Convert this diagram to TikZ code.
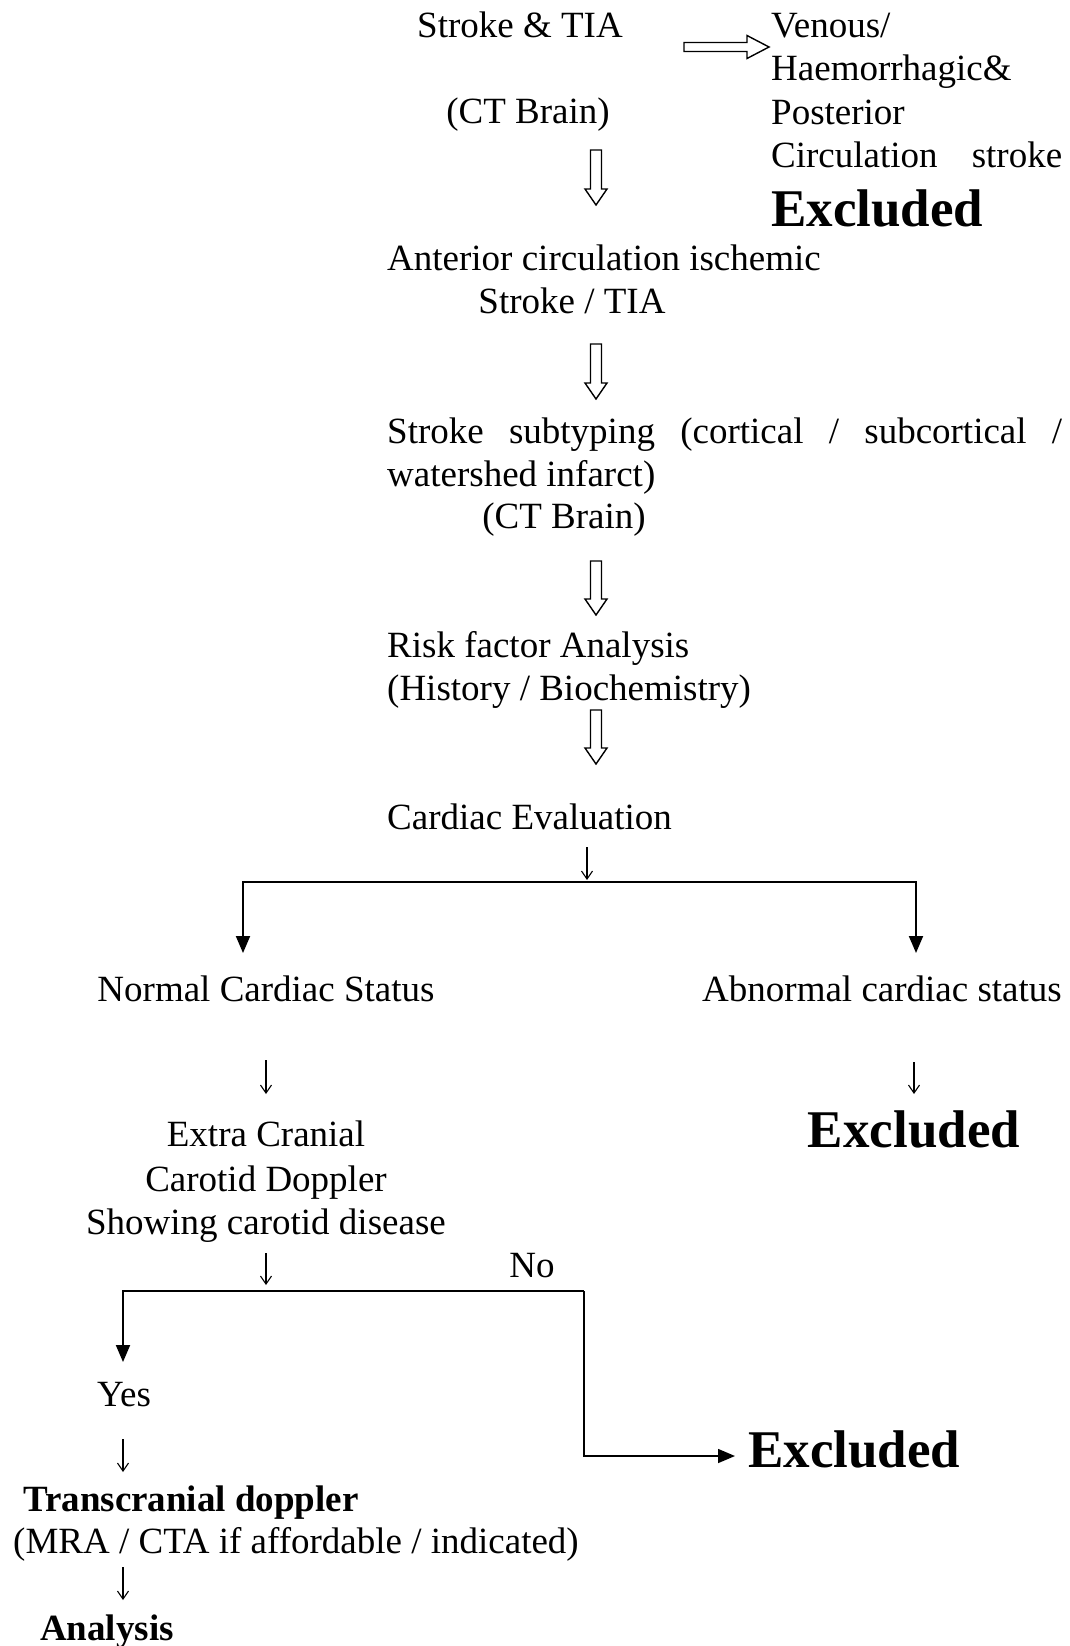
\documentclass[tikz,border=0pt]{standalone}
\usepackage{fontspec}
\setmainfont{Liberation Serif}
\usetikzlibrary{arrows.meta}
\newcommand\hdown[3]{\draw[hollow] (#1-5.5,-#2) -- (#1+5.5,-#2) -- (#1+5.5,-#3+16) -- (#1+11,-#3+16) -- (#1,-#3) -- (#1-11,-#3+16) -- (#1-5.5,-#3+16) -- cycle;}
\begin{document}
\begin{tikzpicture}[x=1pt,y=1pt,
  txt/.style={inner sep=0pt, font=\fontsize{37}{43}\selectfont},
  bld/.style={inner sep=0pt, font=\fontsize{37}{43}\selectfont\bfseries},
  big/.style={inner sep=0pt, font=\fontsize{53}{60}\selectfont\bfseries},
  hollow/.style={line width=1.4pt, fill=white, line join=miter},
  conn/.style={line width=1.9pt},
  tip/.style={-{Triangle[length=17pt,width=14pt]}},
  sarrow/.style={line width=1.1pt, -{Straight Barb[length=8pt,width=11pt]}}]
\useasboundingbox (0,0) rectangle (1069,-1646);

% top block
\node[txt, anchor=base] (s1) at (520,-38) {Stroke \& TIA};
\node[txt, anchor=base] (s2) at (528,-123) {(CT Brain)};
\node[txt, anchor=base west] (ven1) at (771,-38) {Venous/};
\node[txt, anchor=base west] (ven2) at (771,-81) {Haemorrhagic\&};
\node[txt, anchor=base west] (ven3) at (771,-124) {Posterior};
\node[txt, anchor=base west] (ven4) at (771,-167) {\makebox[291pt][s]{Circulation stroke}};
\node[big, anchor=base west] (ex1) at (771,-226) {Excluded};

\node[txt, anchor=base west] (ant1) at (387,-270) {Anterior circulation ischemic};
\node[txt, anchor=base] (ant2) at (572,-313) {Stroke / TIA};

\node[txt, anchor=base west] (sub1) at (387,-443) {\makebox[675pt][s]{Stroke subtyping (cortical / subcortical /}};
\node[txt, anchor=base west] (sub2) at (387,-486) {watershed infarct)};
\node[txt, anchor=base] (sub3) at (564,-528) {(CT Brain)};

\node[txt, anchor=base west] (risk1) at (387,-657) {Risk factor Analysis};
\node[txt, anchor=base west] (risk2) at (387,-700) {(History / Biochemistry)};

\node[txt, anchor=base west] (card) at (387,-829) {Cardiac Evaluation};

\node[txt, anchor=base] (norm) at (266,-1001) {Normal Cardiac Status};
\node[txt, anchor=base east] (abn) at (1062,-1001) {Abnormal cardiac status};

\node[txt, anchor=base] (ecc1) at (266,-1146) {Extra Cranial};
\node[txt, anchor=base] (ecc2) at (266,-1191) {Carotid Doppler};
\node[txt, anchor=base] (ecc3) at (266,-1234) {Showing carotid disease};
\node[big, anchor=base] (ex2) at (914,-1147) {Excluded};

\node[txt, anchor=base] (no) at (532,-1277) {No};
\node[txt, anchor=base] (yes) at (124,-1406) {Yes};
\node[big, anchor=base west] (ex3) at (748,-1467) {Excluded};

\node[bld, anchor=base west] (tcd) at (23,-1511) {Transcranial doppler};
\node[txt, anchor=base west] (mra) at (13,-1553) {(MRA / CTA if affordable / indicated)};
\node[bld, anchor=base west] (ana) at (40,-1640) {Analysis};

% hollow arrows
\draw[hollow] (684,-42.5) -- (747,-42.5) -- (747,-35.5) -- (769,-47) -- (747,-58.5) -- (747,-51.5) -- (684,-51.5) -- cycle;
\hdown{596}{150}{205}
\hdown{596}{344}{399}
\hdown{596}{561}{615}
\hdown{596}{710}{764}

% coordinates
\coordinate (a1s) at (587,-847);
\coordinate (a1e) at (587,-880);
\coordinate (jC) at (587,-882);
\coordinate (tL) at (243,-953);
\coordinate (tR) at (916,-953);
\coordinate (a2s) at (266,-1060);
\coordinate (a2e) at (266,-1094);
\coordinate (a3s) at (914,-1062);
\coordinate (a3e) at (914,-1094);
\coordinate (a4s) at (266,-1253);
\coordinate (a4e) at (266,-1285);
\coordinate (bL) at (123,-1291);
\coordinate (bM) at (434,-1291);
\coordinate (bR) at (584,-1291);
\coordinate (tY) at (123,-1362);
\coordinate (bD) at (584,-1456);
\coordinate (tX) at (735,-1456);
\coordinate (a5s) at (123,-1439);
\coordinate (a5e) at (123,-1472);
\coordinate (a6s) at (123,-1567);
\coordinate (a6e) at (123,-1600);

% connectors
\draw[sarrow] (a1s) -- (a1e);
\draw[conn,tip] (jC) -| (tL);
\draw[conn,tip] (jC) -| (tR);
\draw[sarrow] (a2s) -- (a2e);
\draw[sarrow] (a3s) -- (a3e);
\draw[sarrow] (a4s) -- (a4e);
\draw[line width=1.5pt] (bL) -- (bM);
\draw[line width=2.4pt] (bM) -- (bR);
\draw[conn,tip] (bM) -| (tY);
\draw[line width=1.6pt,tip] (bR) -- (bD) -- (tX);
\draw[sarrow] (a5s) -- (a5e);
\draw[sarrow] (a6s) -- (a6e);
\end{tikzpicture}
\end{document}
